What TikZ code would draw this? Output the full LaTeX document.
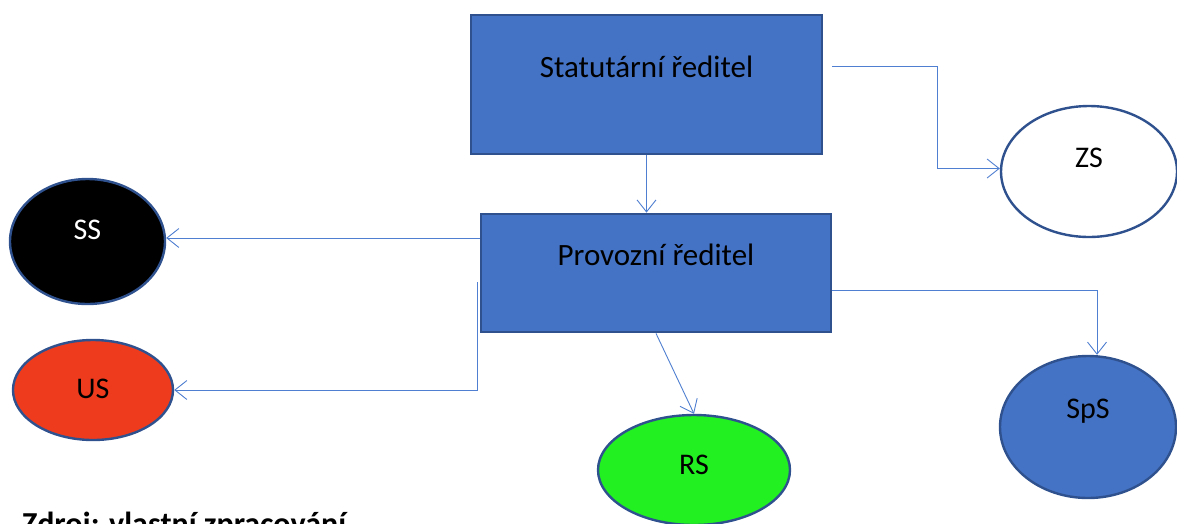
\documentclass[tikz,border=0pt]{standalone}
\usepackage{fontspec}
\setmainfont{Carlito}
\usetikzlibrary{shapes.geometric,arrows.meta,calc}
\definecolor{boxblue}{HTML}{4472C4}
\definecolor{edgeblue}{HTML}{2F528F}
\definecolor{linkblue}{HTML}{4F7FD0}
\definecolor{usred}{HTML}{EE3B1D}
\definecolor{rsgreen}{HTML}{22F021}
\tikzset{
  unitbox/.style={draw=edgeblue, line width=2.8pt, fill=boxblue, inner sep=0pt,
    font=\fontsize{31}{37}\selectfont, text height=20pt},
  unitoval/.style={ellipse, draw=edgeblue, line width=2.4pt, inner sep=0pt,
    font=\fontsize{30}{36}\selectfont, text height=20pt},
  link/.style={draw=linkblue, line width=0.9pt, -{Straight Barb[length=12pt,width=19pt,line width=0.9pt]}}
}
\begin{document}
\begin{tikzpicture}[x=1pt,y=-1pt]
\useasboundingbox (0,0) rectangle (1177,523);
\clip (0,0) rectangle (1177,523);

% management boxes
\node[unitbox, minimum width=351pt, minimum height=139pt, text depth=35pt]
  (stat) at (646.5,84.5) {Statutární ředitel};
\node[unitbox, minimum width=350pt, minimum height=118pt, text depth=36pt]
  (prov) at (656,273) {Provozní ředitel};

% departments
\node[unitoval, fill=black, text=white, minimum width=155pt, minimum height=125pt, text depth=24pt]
  (ss) at (87.5,241.5) {SS};
\node[unitoval, fill=usred, minimum width=160pt, minimum height=100pt, text depth=4pt]
  (us) at (93,390) {US};
\node[unitoval, fill=rsgreen, minimum width=192pt, minimum height=110pt, text depth=12pt]
  (rs) at (694,470) {RS};
\node[unitoval, fill=white, minimum width=176pt, minimum height=131pt, text depth=28pt]
  (zs) at (1089,171.5) {ZS};
\node[unitoval, fill=boxblue, minimum width=176pt, minimum height=142pt, text depth=38pt]
  (sps) at (1088,427) {SpS};

% source line
\node[anchor=base west, inner sep=0pt, font=\fontsize{32}{38}\selectfont\bfseries]
  (src) at (22,534) {Zdroj: vlastní zpracování};

% reporting lines
\coordinate (zsout) at ($(stat.north east)+(9,53)$);
\coordinate (usout) at ($(prov.west)+(-2,9)$);
\coordinate (spsout) at ($(prov.east)+(0,17)$);
\draw[link] (stat.south) -- (stat.south |- prov.north);
\draw[link] (zsout) -- ++(105,0) |- ([yshift=3pt]zs.west);
\draw[link] ([yshift=3.5pt]ss.east -| prov.west) -- ([yshift=3.5pt]ss.east);
\draw[link] (usout) |- (us.east);
\draw[link] (prov.south) -- (rs.north);
\draw[link] (spsout) -| ([xshift=9pt]sps.north);
\end{tikzpicture}
\end{document}
